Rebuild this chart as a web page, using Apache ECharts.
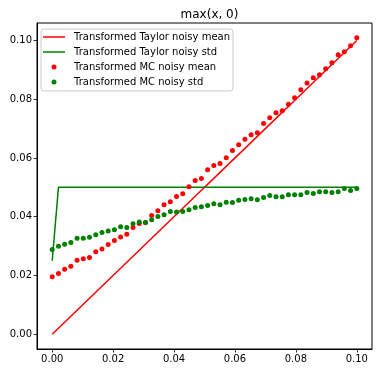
<!DOCTYPE html>
<html>
<head>
<meta charset="utf-8">
<script src="https://cdn.jsdelivr.net/npm/echarts@6/dist/echarts.min.js"></script>
<style>html,body{margin:0;padding:0;background:#fff}#c{width:378px;height:373px}</style>
</head>
<body>
<div id="c"></div>
<script>
const xs = [0, 0.00204, 0.00408, 0.00612, 0.00816, 0.01020, 0.01224, 0.01429, 0.01633, 0.01837,
  0.02041, 0.02245, 0.02449, 0.02653, 0.02857, 0.03061, 0.03265, 0.03469, 0.03673, 0.03878,
  0.04082, 0.04286, 0.04490, 0.04694, 0.04898, 0.05102, 0.05306, 0.05510, 0.05714, 0.05918,
  0.06122, 0.06327, 0.06531, 0.06735, 0.06939, 0.07143, 0.07347, 0.07551, 0.07755, 0.07959,
  0.08163, 0.08367, 0.08571, 0.08776, 0.08980, 0.09184, 0.09388, 0.09592, 0.09796, 0.1];
const taylorMean = [0, 0.00204, 0.00408, 0.00612, 0.00816, 0.01020, 0.01224, 0.01429, 0.01633, 0.01837,
  0.02041, 0.02245, 0.02449, 0.02653, 0.02857, 0.03061, 0.03265, 0.03469, 0.03673, 0.03878,
  0.04082, 0.04286, 0.04490, 0.04694, 0.04898, 0.05102, 0.05306, 0.05510, 0.05714, 0.05918,
  0.06122, 0.06327, 0.06531, 0.06735, 0.06939, 0.07143, 0.07347, 0.07551, 0.07755, 0.07959,
  0.08163, 0.08367, 0.08571, 0.08776, 0.08980, 0.09184, 0.09388, 0.09592, 0.09796, 0.1];
const taylorStd = [0.025, 0.05, 0.05, 0.05, 0.05, 0.05, 0.05, 0.05, 0.05, 0.05,
  0.05, 0.05, 0.05, 0.05, 0.05, 0.05, 0.05, 0.05, 0.05, 0.05,
  0.05, 0.05, 0.05, 0.05, 0.05, 0.05, 0.05, 0.05, 0.05, 0.05,
  0.05, 0.05, 0.05, 0.05, 0.05, 0.05, 0.05, 0.05, 0.05, 0.05,
  0.05, 0.05, 0.05, 0.05, 0.05, 0.05, 0.05, 0.05, 0.05, 0.05];
const mcMean = [0.0196, 0.0207, 0.0221, 0.0231, 0.0252, 0.0257, 0.0261, 0.0281, 0.0290, 0.0305,
  0.0319, 0.0331, 0.0340, 0.0363, 0.0377, 0.0380, 0.0404, 0.0420, 0.0441, 0.0451,
  0.0469, 0.0478, 0.0502, 0.0523, 0.0530, 0.0560, 0.0574, 0.0581, 0.0601, 0.0625,
  0.0645, 0.0664, 0.0679, 0.0686, 0.0717, 0.0737, 0.0754, 0.0761, 0.0783, 0.0805,
  0.0832, 0.0855, 0.0873, 0.0883, 0.0904, 0.0924, 0.0951, 0.0962, 0.0982, 0.1009];
const mcStd = [0.0288, 0.0299, 0.0306, 0.0312, 0.0327, 0.0327, 0.0330, 0.0339, 0.0346, 0.0351,
  0.0356, 0.0366, 0.0363, 0.0376, 0.0382, 0.0380, 0.0390, 0.0401, 0.0407, 0.0418,
  0.0416, 0.0418, 0.0424, 0.0431, 0.0434, 0.0438, 0.0444, 0.0441, 0.0449, 0.0448,
  0.0456, 0.0459, 0.0461, 0.0458, 0.0465, 0.0472, 0.0468, 0.0468, 0.0475, 0.0475,
  0.0475, 0.0482, 0.0479, 0.0485, 0.0485, 0.0482, 0.0485, 0.0496, 0.0489, 0.0496];
const xTicks = [0, 0.02, 0.04, 0.06, 0.08, 0.10];
const yTicks = [0, 0.02, 0.04, 0.06, 0.08, 0.10];
const seriesNames = ['Transformed Taylor noisy mean', 'Transformed Taylor noisy std',
  'Transformed MC noisy mean', 'Transformed MC noisy std'];
const titleText = 'max(x, 0)';

const pair = (a) => xs.map((x, i) => [x, a[i]]);
const FONT = 'DejaVu Sans';
const LINE_ICON = 'path://M0,0L22,0L22,1.5L0,1.5Z';
const chart = echarts.init(document.getElementById('c'), null, {renderer: 'canvas'});
const axisCommon = {
  axisLine: {show: true, onZero: false, lineStyle: {color: '#000', width: 1}},
  axisTick: {show: true, length: 3.5, lineStyle: {color: '#000', width: 0.8}},
  splitLine: {show: false},
  axisLabel: {color: '#000', fontFamily: FONT, fontSize: 10, margin: 5,
    formatter: v => v.toFixed(2)}
};
chart.setOption({
  animation: false,
  backgroundColor: '#fff',
  title: {text: titleText, left: 204.5, top: 4, textAlign: 'center',
    textStyle: {fontFamily: FONT, fontSize: 12, fontWeight: 'normal', color: '#000'}},
  grid: {left: 37, right: 6, top: 23, bottom: 24, show: true, borderColor: '#000', borderWidth: 1,
    backgroundColor: 'transparent'},
  legend: {
    orient: 'vertical', left: 41, top: 29,
    backgroundColor: 'rgba(255,255,255,0.8)', borderColor: '#ccc', borderWidth: 1, borderRadius: 3,
    padding: [2, 3, 3, 2], itemGap: 3, itemWidth: 22, itemHeight: 5, symbolKeepAspect: true,
    textStyle: {fontFamily: FONT, fontSize: 10, color: '#000', lineHeight: 12, padding: [0, 0, 0, 4]},
    data: [
      {name: seriesNames[0], icon: LINE_ICON, itemStyle: {color: '#ff0000'}},
      {name: seriesNames[1], icon: LINE_ICON, itemStyle: {color: '#008000'}},
      {name: seriesNames[2], icon: 'circle'},
      {name: seriesNames[3], icon: 'circle'}
    ]
  },
  xAxis: Object.assign({}, axisCommon, {
    type: 'value', min: -0.005, max: 0.105,
    axisTick: Object.assign({}, axisCommon.axisTick, {customValues: xTicks}),
    axisLabel: Object.assign({}, axisCommon.axisLabel, {customValues: xTicks})
  }),
  yAxis: Object.assign({}, axisCommon, {
    type: 'value', min: -0.00504, max: 0.10595,
    axisTick: Object.assign({}, axisCommon.axisTick, {customValues: yTicks}),
    axisLabel: Object.assign({}, axisCommon.axisLabel, {customValues: yTicks})
  }),
  series: [
    {name: seriesNames[0], type: 'line', data: pair(taylorMean), symbol: 'none',
      lineStyle: {color: '#ff0000', width: 1.5}, itemStyle: {color: '#ff0000'}, z: 2},
    {name: seriesNames[1], type: 'line', data: pair(taylorStd), symbol: 'none',
      lineStyle: {color: '#008000', width: 1.5}, itemStyle: {color: '#008000'}, z: 3},
    {name: seriesNames[2], type: 'scatter', data: pair(mcMean), symbolSize: 5,
      itemStyle: {color: '#ff0000', opacity: 1}, z: 4},
    {name: seriesNames[3], type: 'scatter', data: pair(mcStd), symbolSize: 5,
      itemStyle: {color: '#008000', opacity: 1}, z: 5}
  ]
});
</script>
</body>
</html>
